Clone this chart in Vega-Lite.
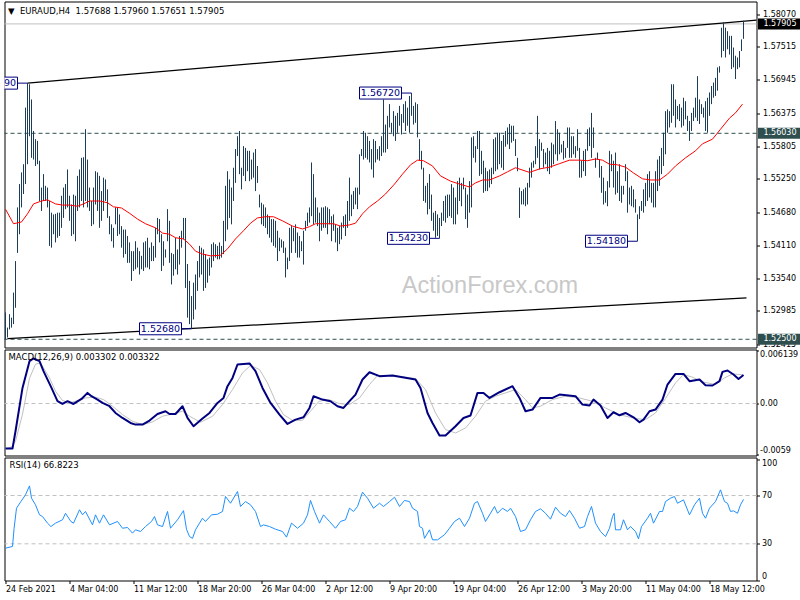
{
"$schema": "https://vega.github.io/schema/vega-lite/v6.json",
"background": "white",
"padding": {"left": 2.5, "top": 0.5, "right": 0, "bottom": 0},
"bounds": "flush",
"spacing": 2,
"config": {
  "view": {"stroke": "black", "strokeWidth": 1},
  "axis": {"labelFont": "DejaVu Sans", "labelFontSize": 8, "labelColor": "black", "tickColor": "black", "tickSize": 3, "labelPadding": 3, "domain": false, "grid": false, "labelOverlap": false, "labelFlush": false},
  "title": {"font": "DejaVu Sans", "fontSize": 8.5, "fontWeight": "normal", "color": "black", "anchor": "start", "frame": "group"},
  "text": {"font": "DejaVu Sans"}
},
"datasets": {
"bars": [
{"i":0,"h":1.5296,"l":1.5250},{"i":1,"h":1.5270,"l":1.5253},{"i":2,"h":1.5293,"l":1.5267},{"i":3,"h":1.5287,"l":1.5270},{"i":4,"h":1.5330,"l":1.5276},{"i":5,"h":1.5384,"l":1.5304},{"i":6,"h":1.5476,"l":1.5398},{"i":7,"h":1.5516,"l":1.5430},{"i":8,"h":1.5536,"l":1.5476},{"i":9,"h":1.5550,"l":1.5499},
{"i":10,"h":1.5647,"l":1.5516},{"i":11,"h":1.5689,"l":1.5550},{"i":12,"h":1.5687,"l":1.5598},{"i":13,"h":1.5661,"l":1.5561},{"i":14,"h":1.5607,"l":1.5558},{"i":15,"h":1.5593,"l":1.5547},{"i":16,"h":1.5590,"l":1.5550},{"i":17,"h":1.5556,"l":1.5487},{"i":18,"h":1.5510,"l":1.5470},{"i":19,"h":1.5533,"l":1.5487},
{"i":20,"h":1.5513,"l":1.5487},{"i":21,"h":1.5510,"l":1.5476},{"i":22,"h":1.5487,"l":1.5410},{"i":23,"h":1.5467,"l":1.5407},{"i":24,"h":1.5464,"l":1.5430},{"i":25,"h":1.5465,"l":1.5416},{"i":26,"h":1.5467,"l":1.5424},{"i":27,"h":1.5467,"l":1.5427},{"i":28,"h":1.5496,"l":1.5441},{"i":29,"h":1.5510,"l":1.5458},
{"i":30,"h":1.5516,"l":1.5473},{"i":31,"h":1.5541,"l":1.5476},{"i":32,"h":1.5496,"l":1.5453},{"i":33,"h":1.5481,"l":1.5427},{"i":34,"h":1.5498,"l":1.5430},{"i":35,"h":1.5496,"l":1.5418},{"i":36,"h":1.5530,"l":1.5470},{"i":37,"h":1.5541,"l":1.5476},{"i":38,"h":1.5561,"l":1.5487},{"i":39,"h":1.5562,"l":1.5476},
{"i":40,"h":1.5610,"l":1.5487},{"i":41,"h":1.5558,"l":1.5476},{"i":42,"h":1.5510,"l":1.5470},{"i":43,"h":1.5487,"l":1.5444},{"i":44,"h":1.5510,"l":1.5447},{"i":45,"h":1.5538,"l":1.5481},{"i":46,"h":1.5536,"l":1.5470},{"i":47,"h":1.5530,"l":1.5441},{"i":48,"h":1.5504,"l":1.5453},{"i":49,"h":1.5527,"l":1.5470},
{"i":50,"h":1.5524,"l":1.5487},{"i":51,"h":1.5507,"l":1.5458},{"i":52,"h":1.5461,"l":1.5430},{"i":53,"h":1.5447,"l":1.5418},{"i":54,"h":1.5441,"l":1.5407},{"i":55,"h":1.5476,"l":1.5447},{"i":56,"h":1.5476,"l":1.5427},{"i":57,"h":1.5464,"l":1.5430},{"i":58,"h":1.5444,"l":1.5407},{"i":59,"h":1.5438,"l":1.5390},
{"i":60,"h":1.5438,"l":1.5396},{"i":61,"h":1.5427,"l":1.5381},{"i":62,"h":1.5416,"l":1.5381},{"i":63,"h":1.5401,"l":1.5350},{"i":64,"h":1.5401,"l":1.5367},{"i":65,"h":1.5418,"l":1.5370},{"i":66,"h":1.5407,"l":1.5373},{"i":67,"h":1.5401,"l":1.5361},{"i":68,"h":1.5393,"l":1.5370},{"i":69,"h":1.5416,"l":1.5367},
{"i":70,"h":1.5418,"l":1.5373},{"i":71,"h":1.5424,"l":1.5373},{"i":72,"h":1.5407,"l":1.5370},{"i":73,"h":1.5416,"l":1.5384},{"i":74,"h":1.5410,"l":1.5384},{"i":75,"h":1.5441,"l":1.5390},{"i":76,"h":1.5458,"l":1.5430},{"i":77,"h":1.5456,"l":1.5416},{"i":78,"h":1.5430,"l":1.5367},{"i":79,"h":1.5418,"l":1.5376},
{"i":80,"h":1.5404,"l":1.5390},{"i":81,"h":1.5473,"l":1.5418},{"i":82,"h":1.5453,"l":1.5381},{"i":83,"h":1.5398,"l":1.5344},{"i":84,"h":1.5396,"l":1.5359},{"i":85,"h":1.5424,"l":1.5370},{"i":86,"h":1.5404,"l":1.5361},{"i":87,"h":1.5427,"l":1.5378},{"i":88,"h":1.5436,"l":1.5407},{"i":89,"h":1.5458,"l":1.5421},
{"i":90,"h":1.5458,"l":1.5338},{"i":91,"h":1.5379,"l":1.5287},{"i":92,"h":1.5350,"l":1.5276},{"i":93,"h":1.5324,"l":1.5268},{"i":94,"h":1.5347,"l":1.5284},{"i":95,"h":1.5361,"l":1.5301},{"i":96,"h":1.5384,"l":1.5333},{"i":97,"h":1.5410,"l":1.5356},{"i":98,"h":1.5407,"l":1.5361},{"i":99,"h":1.5404,"l":1.5333},
{"i":100,"h":1.5396,"l":1.5338},{"i":101,"h":1.5387,"l":1.5347},{"i":102,"h":1.5390,"l":1.5359},{"i":103,"h":1.5413,"l":1.5373},{"i":104,"h":1.5416,"l":1.5384},{"i":105,"h":1.5413,"l":1.5390},{"i":106,"h":1.5410,"l":1.5387},{"i":107,"h":1.5416,"l":1.5387},{"i":108,"h":1.5410,"l":1.5390},{"i":109,"h":1.5453,"l":1.5396},
{"i":110,"h":1.5513,"l":1.5418},{"i":111,"h":1.5538,"l":1.5438},{"i":112,"h":1.5524,"l":1.5458},{"i":113,"h":1.5510,"l":1.5447},{"i":114,"h":1.5544,"l":1.5487},{"i":115,"h":1.5576,"l":1.5518},{"i":116,"h":1.5598,"l":1.5564},{"i":117,"h":1.5607,"l":1.5533},{"i":118,"h":1.5544,"l":1.5507},{"i":119,"h":1.5581,"l":1.5530},
{"i":120,"h":1.5578,"l":1.5521},{"i":121,"h":1.5573,"l":1.5538},{"i":122,"h":1.5573,"l":1.5521},{"i":123,"h":1.5558,"l":1.5524},{"i":124,"h":1.5570,"l":1.5527},{"i":125,"h":1.5576,"l":1.5504},{"i":126,"h":1.5547,"l":1.5518},{"i":127,"h":1.5498,"l":1.5476},{"i":128,"h":1.5484,"l":1.5447},{"i":129,"h":1.5481,"l":1.5444},
{"i":130,"h":1.5476,"l":1.5441},{"i":131,"h":1.5464,"l":1.5430},{"i":132,"h":1.5461,"l":1.5424},{"i":133,"h":1.5456,"l":1.5416},{"i":134,"h":1.5456,"l":1.5410},{"i":135,"h":1.5453,"l":1.5407},{"i":136,"h":1.5436,"l":1.5384},{"i":137,"h":1.5424,"l":1.5401},{"i":138,"h":1.5421,"l":1.5407},{"i":139,"h":1.5418,"l":1.5398},
{"i":140,"h":1.5407,"l":1.5356},{"i":141,"h":1.5390,"l":1.5370},{"i":142,"h":1.5441,"l":1.5384},{"i":143,"h":1.5444,"l":1.5398},{"i":144,"h":1.5441,"l":1.5418},{"i":145,"h":1.5447,"l":1.5398},{"i":146,"h":1.5433,"l":1.5390},{"i":147,"h":1.5427,"l":1.5390},{"i":148,"h":1.5418,"l":1.5401},{"i":149,"h":1.5436,"l":1.5378},
{"i":150,"h":1.5453,"l":1.5436},{"i":151,"h":1.5467,"l":1.5444},{"i":152,"h":1.5476,"l":1.5450},{"i":153,"h":1.5553,"l":1.5461},{"i":154,"h":1.5533,"l":1.5447},{"i":155,"h":1.5493,"l":1.5450},{"i":156,"h":1.5476,"l":1.5444},{"i":157,"h":1.5467,"l":1.5418},{"i":158,"h":1.5476,"l":1.5436},{"i":159,"h":1.5476,"l":1.5441},
{"i":160,"h":1.5478,"l":1.5441},{"i":161,"h":1.5476,"l":1.5430},{"i":162,"h":1.5473,"l":1.5447},{"i":163,"h":1.5461,"l":1.5418},{"i":164,"h":1.5464,"l":1.5436},{"i":165,"h":1.5447,"l":1.5416},{"i":166,"h":1.5441,"l":1.5401},{"i":167,"h":1.5444,"l":1.5413},{"i":168,"h":1.5450,"l":1.5421},{"i":169,"h":1.5461,"l":1.5441},
{"i":170,"h":1.5464,"l":1.5427},{"i":171,"h":1.5487,"l":1.5441},{"i":172,"h":1.5527,"l":1.5453},{"i":173,"h":1.5498,"l":1.5461},{"i":174,"h":1.5504,"l":1.5473},{"i":175,"h":1.5510,"l":1.5481},{"i":176,"h":1.5510,"l":1.5473},{"i":177,"h":1.5567,"l":1.5498},{"i":178,"h":1.5576,"l":1.5564},{"i":179,"h":1.5607,"l":1.5558},
{"i":180,"h":1.5604,"l":1.5561},{"i":181,"h":1.5598,"l":1.5558},{"i":182,"h":1.5590,"l":1.5553},{"i":183,"h":1.5576,"l":1.5541},{"i":184,"h":1.5593,"l":1.5527},{"i":185,"h":1.5590,"l":1.5553},{"i":186,"h":1.5576,"l":1.5558},{"i":187,"h":1.5581,"l":1.5556},{"i":188,"h":1.5598,"l":1.5564},{"i":189,"h":1.5661,"l":1.5570},
{"i":190,"h":1.5618,"l":1.5570},{"i":191,"h":1.5633,"l":1.5576},{"i":192,"h":1.5653,"l":1.5613},{"i":193,"h":1.5621,"l":1.5604},{"i":194,"h":1.5641,"l":1.5598},{"i":195,"h":1.5633,"l":1.5590},{"i":196,"h":1.5638,"l":1.5604},{"i":197,"h":1.5650,"l":1.5616},{"i":198,"h":1.5636,"l":1.5601},{"i":199,"h":1.5653,"l":1.5621},
{"i":200,"h":1.5658,"l":1.5607},{"i":201,"h":1.5647,"l":1.5616},{"i":202,"h":1.5667,"l":1.5604},{"i":203,"h":1.5672,"l":1.5633},{"i":204,"h":1.5650,"l":1.5618},{"i":205,"h":1.5656,"l":1.5621},{"i":206,"h":1.5653,"l":1.5596},{"i":207,"h":1.5593,"l":1.5556},{"i":208,"h":1.5573,"l":1.5541},{"i":209,"h":1.5544,"l":1.5487},
{"i":210,"h":1.5513,"l":1.5484},{"i":211,"h":1.5518,"l":1.5464},{"i":212,"h":1.5533,"l":1.5473},{"i":213,"h":1.5498,"l":1.5453},{"i":214,"h":1.5467,"l":1.5436},{"i":215,"h":1.5470,"l":1.5424},{"i":216,"h":1.5464,"l":1.5427},{"i":217,"h":1.5458,"l":1.5423},{"i":218,"h":1.5467,"l":1.5444},{"i":219,"h":1.5487,"l":1.5453},
{"i":220,"h":1.5496,"l":1.5450},{"i":221,"h":1.5498,"l":1.5458},{"i":222,"h":1.5498,"l":1.5461},{"i":223,"h":1.5516,"l":1.5458},{"i":224,"h":1.5510,"l":1.5447},{"i":225,"h":1.5493,"l":1.5447},{"i":226,"h":1.5521,"l":1.5464},{"i":227,"h":1.5527,"l":1.5487},{"i":228,"h":1.5518,"l":1.5478},{"i":229,"h":1.5527,"l":1.5507},
{"i":230,"h":1.5510,"l":1.5456},{"i":231,"h":1.5498,"l":1.5441},{"i":232,"h":1.5521,"l":1.5467},{"i":233,"h":1.5596,"l":1.5476},{"i":234,"h":1.5598,"l":1.5561},{"i":235,"h":1.5581,"l":1.5553},{"i":236,"h":1.5607,"l":1.5576},{"i":237,"h":1.5607,"l":1.5530},{"i":238,"h":1.5573,"l":1.5533},{"i":239,"h":1.5556,"l":1.5501},
{"i":240,"h":1.5544,"l":1.5504},{"i":241,"h":1.5538,"l":1.5504},{"i":242,"h":1.5541,"l":1.5510},{"i":243,"h":1.5544,"l":1.5516},{"i":244,"h":1.5593,"l":1.5533},{"i":245,"h":1.5596,"l":1.5538},{"i":246,"h":1.5604,"l":1.5541},{"i":247,"h":1.5604,"l":1.5550},{"i":248,"h":1.5590,"l":1.5544},{"i":249,"h":1.5600,"l":1.5540},
{"i":250,"h":1.5607,"l":1.5580},{"i":251,"h":1.5613,"l":1.5584},{"i":252,"h":1.5619,"l":1.5576},{"i":253,"h":1.5616,"l":1.5587},{"i":254,"h":1.5616,"l":1.5590},{"i":255,"h":1.5593,"l":1.5564},{"i":256,"h":1.5561,"l":1.5538},{"i":257,"h":1.5510,"l":1.5458},{"i":258,"h":1.5504,"l":1.5481},{"i":259,"h":1.5507,"l":1.5481},
{"i":260,"h":1.5510,"l":1.5478},{"i":261,"h":1.5518,"l":1.5481},{"i":262,"h":1.5544,"l":1.5510},{"i":263,"h":1.5553,"l":1.5527},{"i":264,"h":1.5556,"l":1.5544},{"i":265,"h":1.5581,"l":1.5550},{"i":266,"h":1.5633,"l":1.5561},{"i":267,"h":1.5593,"l":1.5541},{"i":268,"h":1.5587,"l":1.5573},{"i":269,"h":1.5576,"l":1.5544},
{"i":270,"h":1.5570,"l":1.5550},{"i":271,"h":1.5578,"l":1.5538},{"i":272,"h":1.5573,"l":1.5533},{"i":273,"h":1.5587,"l":1.5544},{"i":274,"h":1.5584,"l":1.5550},{"i":275,"h":1.5624,"l":1.5567},{"i":276,"h":1.5610,"l":1.5556},{"i":277,"h":1.5604,"l":1.5567},{"i":278,"h":1.5584,"l":1.5570},{"i":279,"h":1.5590,"l":1.5558},
{"i":280,"h":1.5578,"l":1.5561},{"i":281,"h":1.5613,"l":1.5578},{"i":282,"h":1.5613,"l":1.5561},{"i":283,"h":1.5598,"l":1.5561},{"i":284,"h":1.5598,"l":1.5567},{"i":285,"h":1.5581,"l":1.5561},{"i":286,"h":1.5610,"l":1.5573},{"i":287,"h":1.5578,"l":1.5527},{"i":288,"h":1.5556,"l":1.5527},{"i":289,"h":1.5573,"l":1.5538},
{"i":290,"h":1.5576,"l":1.5530},{"i":291,"h":1.5610,"l":1.5573},{"i":292,"h":1.5613,"l":1.5581},{"i":293,"h":1.5638,"l":1.5561},{"i":294,"h":1.5613,"l":1.5578},{"i":295,"h":1.5561,"l":1.5544},{"i":296,"h":1.5570,"l":1.5558},{"i":297,"h":1.5558,"l":1.5527},{"i":298,"h":1.5547,"l":1.5501},{"i":299,"h":1.5527,"l":1.5481},
{"i":300,"h":1.5504,"l":1.5484},{"i":301,"h":1.5521,"l":1.5478},{"i":302,"h":1.5573,"l":1.5510},{"i":303,"h":1.5567,"l":1.5538},{"i":304,"h":1.5556,"l":1.5510},{"i":305,"h":1.5570,"l":1.5498},{"i":306,"h":1.5538,"l":1.5501},{"i":307,"h":1.5550,"l":1.5487},{"i":308,"h":1.5513,"l":1.5484},{"i":309,"h":1.5513,"l":1.5498},
{"i":310,"h":1.5550,"l":1.5521},{"i":311,"h":1.5538,"l":1.5467},{"i":312,"h":1.5510,"l":1.5481},{"i":313,"h":1.5513,"l":1.5478},{"i":314,"h":1.5507,"l":1.5476},{"i":315,"h":1.5490,"l":1.5467},{"i":316,"h":1.5464,"l":1.5418},{"i":317,"h":1.5478,"l":1.5456},{"i":318,"h":1.5487,"l":1.5470},{"i":319,"h":1.5507,"l":1.5467},
{"i":320,"h":1.5518,"l":1.5478},{"i":321,"h":1.5533,"l":1.5487},{"i":322,"h":1.5538,"l":1.5493},{"i":323,"h":1.5518,"l":1.5484},{"i":324,"h":1.5518,"l":1.5476},{"i":325,"h":1.5538,"l":1.5476},{"i":326,"h":1.5558,"l":1.5504},{"i":327,"h":1.5564,"l":1.5513},{"i":328,"h":1.5578,"l":1.5533},{"i":329,"h":1.5604,"l":1.5547},
{"i":330,"h":1.5641,"l":1.5567},{"i":331,"h":1.5644,"l":1.5604},{"i":332,"h":1.5641,"l":1.5613},{"i":333,"h":1.5687,"l":1.5621},{"i":334,"h":1.5687,"l":1.5633},{"i":335,"h":1.5661,"l":1.5613},{"i":336,"h":1.5650,"l":1.5627},{"i":337,"h":1.5653,"l":1.5624},{"i":338,"h":1.5647,"l":1.5613},{"i":339,"h":1.5664,"l":1.5616},
{"i":340,"h":1.5658,"l":1.5627},{"i":341,"h":1.5633,"l":1.5607},{"i":342,"h":1.5624,"l":1.5590},{"i":343,"h":1.5638,"l":1.5607},{"i":344,"h":1.5647,"l":1.5624},{"i":345,"h":1.5664,"l":1.5630},{"i":346,"h":1.5701,"l":1.5624},{"i":347,"h":1.5661,"l":1.5619},{"i":348,"h":1.5653,"l":1.5636},{"i":349,"h":1.5647,"l":1.5630},
{"i":350,"h":1.5658,"l":1.5607},{"i":351,"h":1.5664,"l":1.5604},{"i":352,"h":1.5673,"l":1.5633},{"i":353,"h":1.5684,"l":1.5653},{"i":354,"h":1.5690,"l":1.5664},{"i":355,"h":1.5698,"l":1.5667},{"i":356,"h":1.5716,"l":1.5676},{"i":357,"h":1.5718,"l":1.5707},{"i":358,"h":1.5784,"l":1.5733},{"i":359,"h":1.5793,"l":1.5744},
{"i":360,"h":1.5784,"l":1.5733},{"i":361,"h":1.5778,"l":1.5747},{"i":362,"h":1.5770,"l":1.5738},{"i":363,"h":1.5770,"l":1.5713},{"i":364,"h":1.5750,"l":1.5716},{"i":365,"h":1.5736,"l":1.5696},{"i":366,"h":1.5733,"l":1.5713},{"i":367,"h":1.5744,"l":1.5716},{"i":368,"h":1.5764,"l":1.5744},{"i":369,"h":1.5796,"l":1.5765}
],
"ma": [
{"i":0,"p":1.5473},{"i":4,"p":1.5448},{"i":8,"p":1.5451},{"i":11,"p":1.5465},{"i":14,"p":1.5482},{"i":18,"p":1.5487},{"i":21,"p":1.5489},{"i":25,"p":1.5482},{"i":28.5,"p":1.548},{"i":32,"p":1.548},{"i":36,"p":1.5478},{"i":39,"p":1.5482},{"i":42,"p":1.5487},{"i":47,"p":1.5487},{"i":51,"p":1.5484},{"i":54,"p":1.5477},{"i":58,"p":1.5475},{"i":62,"p":1.5466},{"i":66,"p":1.5456},{"i":70,"p":1.5448},{"i":75,"p":1.5441},{"i":78.5,"p":1.5432},{"i":82,"p":1.543},{"i":85,"p":1.5424},{"i":89,"p":1.5422},{"i":92,"p":1.5413},{"i":95,"p":1.5401},{"i":98.5,"p":1.5396},{"i":102.5,"p":1.5393},{"i":107.5,"p":1.5394},{"i":111,"p":1.5405},{"i":115,"p":1.5422},{"i":119,"p":1.5436},{"i":122.5,"p":1.5449},{"i":126,"p":1.5458},{"i":130,"p":1.546},{"i":134,"p":1.546},{"i":138.5,"p":1.5453},{"i":143.5,"p":1.5444},{"i":148.5,"p":1.5439},{"i":152,"p":1.5443},{"i":155,"p":1.5448},{"i":164,"p":1.5448},{"i":167.5,"p":1.5444},{"i":172,"p":1.5446},{"i":175,"p":1.5449},{"i":178.5,"p":1.5465},{"i":182,"p":1.5477},{"i":186,"p":1.5487},{"i":190,"p":1.5499},{"i":194.5,"p":1.5516},{"i":198.5,"p":1.5533},{"i":202.5,"p":1.5549},{"i":206,"p":1.5557},{"i":209,"p":1.5556},{"i":213.5,"p":1.5547},{"i":217.5,"p":1.553},{"i":222.5,"p":1.5521},{"i":227,"p":1.5516},{"i":232,"p":1.5511},{"i":235,"p":1.5518},{"i":238.5,"p":1.5523},{"i":242,"p":1.5523},{"i":247,"p":1.553},{"i":251,"p":1.5537},{"i":255,"p":1.5544},{"i":262,"p":1.5536},{"i":267,"p":1.5542},{"i":272,"p":1.5545},{"i":277,"p":1.5551},{"i":282,"p":1.5557},{"i":287,"p":1.5557},{"i":291,"p":1.5556},{"i":295,"p":1.5559},{"i":298.5,"p":1.5557},{"i":302,"p":1.555},{"i":306,"p":1.5549},{"i":310,"p":1.5545},{"i":314,"p":1.5535},{"i":318.5,"p":1.5525},{"i":322.5,"p":1.5523},{"i":327,"p":1.5523},{"i":331,"p":1.5533},{"i":335,"p":1.5547},{"i":340,"p":1.5561},{"i":345,"p":1.5573},{"i":348.5,"p":1.5585},{"i":353.5,"p":1.5593},{"i":357.5,"p":1.561},{"i":362,"p":1.5629},{"i":365,"p":1.5638},{"i":368.5,"p":1.5653}
],
"trend": [
{"k":"u","i":11,"p":1.5689},{"k":"u","i":375.5,"p":1.5797},{"k":"l","i":1,"p":1.5251},{"k":"l","i":370.5,"p":1.5321}
],
"notes": [
{"i":11,"p":1.5689,"t":"1.56890"},{"i":93,"p":1.5268,"t":"1.52680"},{"i":203,"p":1.5672,"t":"1.56720"},{"i":217,"p":1.5423,"t":"1.54230"},{"i":316,"p":1.5418,"t":"1.54180"}
],
"tags": [
{"p":1.57905,"t":"1.57905","c":"cur"},{"p":1.5603,"t":"1.56030","c":"lvl"},{"p":1.525,"t":"1.52500","c":"lvl"}
],
"macd": [
{"i":0,"v":-0.00522},{"i":3.5,"v":-0.00522},{"i":5,"v":-0.00321},{"i":8.5,"v":0.00181},{"i":12,"v":0.00491},{"i":14,"v":0.00522},{"i":17,"v":0.00491},{"i":19,"v":0.00375},{"i":23,"v":0.00181},{"i":26,"v":0.00027},{"i":28.5,"v":-0.00005},{"i":31,"v":0.00027},{"i":34,"v":-0.00005},{"i":38,"v":0.00053},{"i":41,"v":0.00123},{"i":43,"v":0.00085},{"i":46,"v":0.00046},{"i":48.5,"v":0.00007},{"i":52,"v":-0.00031},{"i":55,"v":-0.00109},{"i":58.5,"v":-0.00167},{"i":62.5,"v":-0.00225},{"i":65,"v":-0.00244},{"i":68.5,"v":-0.00244},{"i":72,"v":-0.00197},{"i":76,"v":-0.00121},{"i":80,"v":-0.00089},{"i":82,"v":-0.00121},{"i":85,"v":-0.00121},{"i":88.5,"v":-0.00031},{"i":91,"v":-0.00167},{"i":94,"v":-0.00263},{"i":98.5,"v":-0.00174},{"i":102,"v":-0.00109},{"i":106,"v":0.00007},{"i":109,"v":0.00065},{"i":111,"v":0.00201},{"i":113.5,"v":0.00297},{"i":116,"v":0.00452},{"i":122,"v":0.00464},{"i":125,"v":0.00375},{"i":128.5,"v":0.00181},{"i":132.5,"v":0.00007},{"i":137,"v":-0.00128},{"i":141,"v":-0.00237},{"i":145,"v":-0.00186},{"i":149,"v":-0.00159},{"i":152,"v":-0.00051},{"i":154,"v":0.00085},{"i":158.5,"v":0.00046},{"i":162.5,"v":0.00027},{"i":166,"v":-0.00031},{"i":169,"v":-0.00051},{"i":172,"v":0.00027},{"i":175,"v":0.00104},{"i":178.5,"v":0.00278},{"i":182,"v":0.00363},{"i":187,"v":0.00317},{"i":193.5,"v":0.00325},{"i":198.5,"v":0.00305},{"i":205,"v":0.00278},{"i":207.5,"v":0.00181},{"i":211,"v":-0.00109},{"i":213.5,"v":-0.00225},{"i":217,"v":-0.00371},{"i":220,"v":-0.00371},{"i":225,"v":-0.00263},{"i":229,"v":-0.00167},{"i":232.5,"v":-0.00139},{"i":236,"v":0.00123},{"i":239,"v":0.00123},{"i":242,"v":0.00065},{"i":247,"v":0.00131},{"i":253.5,"v":0.00201},{"i":257,"v":0.00065},{"i":260,"v":-0.00089},{"i":263.5,"v":-0.0007},{"i":267.5,"v":0.00065},{"i":273.5,"v":0.00065},{"i":277,"v":0.00104},{"i":285,"v":0.00085},{"i":288.5,"v":-0.00012},{"i":292,"v":-0.00023},{"i":294,"v":0.00046},{"i":297.5,"v":-0.00023},{"i":301,"v":-0.00167},{"i":304,"v":-0.00101},{"i":307,"v":-0.00136},{"i":310,"v":-0.00109},{"i":314,"v":-0.00159},{"i":317,"v":-0.00217},{"i":319,"v":-0.00186},{"i":322,"v":-0.00089},{"i":325,"v":-0.0007},{"i":328.5,"v":0.00046},{"i":331,"v":0.0022},{"i":335,"v":0.00343},{"i":339,"v":0.00343},{"i":342,"v":0.00259},{"i":347,"v":0.00278},{"i":350,"v":0.00212},{"i":353.5,"v":0.00209},{"i":357,"v":0.00259},{"i":358.5,"v":0.00367},{"i":361,"v":0.00383},{"i":364,"v":0.00336},{"i":366.5,"v":0.00285},{"i":369,"v":0.0033}
],
"sig": [
{"i":0,"v":-0.0053},{"i":3,"v":-0.005},{"i":5,"v":-0.00437},{"i":8.5,"v":-0.00124},{"i":12,"v":0.00293},{"i":15,"v":0.00456},{"i":17.5,"v":0.00471},{"i":22,"v":0.00297},{"i":25,"v":0.00143},{"i":28.5,"v":0.00035},{"i":32,"v":0.00007},{"i":35,"v":0.00027},{"i":40,"v":0.00065},{"i":45,"v":0.00073},{"i":49,"v":0.00046},{"i":53.5,"v":-0.00031},{"i":58.5,"v":-0.00128},{"i":63.5,"v":-0.00205},{"i":68.5,"v":-0.00244},{"i":73.5,"v":-0.00213},{"i":78.5,"v":-0.00147},{"i":83.5,"v":-0.00121},{"i":88.5,"v":-0.00089},{"i":92,"v":-0.00147},{"i":97.5,"v":-0.00217},{"i":103.5,"v":-0.00147},{"i":108.5,"v":-0.00012},{"i":113.5,"v":0.00162},{"i":118.5,"v":0.00355},{"i":122.5,"v":0.00441},{"i":127,"v":0.00394},{"i":131,"v":0.00239},{"i":135,"v":0.00027},{"i":139,"v":-0.00128},{"i":143.5,"v":-0.00194},{"i":148.5,"v":-0.00194},{"i":152.5,"v":-0.00089},{"i":156.8,"v":0.00027},{"i":161.8,"v":0.00046},{"i":166.8,"v":0},{"i":172,"v":-0.00012},{"i":177,"v":0.00065},{"i":182,"v":0.0022},{"i":186,"v":0.00325},{"i":192,"v":0.00325},{"i":198.5,"v":0.00309},{"i":205,"v":0.0029},{"i":210,"v":0.00162},{"i":215,"v":-0.00109},{"i":220,"v":-0.00302},{"i":225,"v":-0.00341},{"i":230,"v":-0.00283},{"i":235,"v":-0.00147},{"i":240,"v":0.00027},{"i":245,"v":0.00085},{"i":250,"v":0.00123},{"i":255,"v":0.00162},{"i":260,"v":0.00046},{"i":263.5,"v":-0.00051},{"i":267.5,"v":-0.00031},{"i":273.5,"v":0.00046},{"i":280,"v":0.00085},{"i":286.8,"v":0.00065},{"i":293.5,"v":0.00027},{"i":300,"v":-0.00051},{"i":306.8,"v":-0.00128},{"i":315,"v":-0.00174},{"i":320,"v":-0.00186},{"i":325,"v":-0.00109},{"i":330,"v":0.00058},{"i":335,"v":0.00239},{"i":339,"v":0.00336},{"i":343.5,"v":0.00305},{"i":348.5,"v":0.00251},{"i":355,"v":0.0022},{"i":359.5,"v":0.00297},{"i":363.5,"v":0.00343},{"i":369,"v":0.00332}
],
"rsi": [
{"i":0,"v":26.4},{"i":3.5,"v":27.8},{"i":4.3,"v":42.9},{"i":5.5,"v":59.5},{"i":7.7,"v":65},{"i":10,"v":70.6},{"i":12,"v":78},{"i":13,"v":67.8},{"i":15,"v":62.3},{"i":17,"v":54},{"i":18.5,"v":52.6},{"i":21,"v":47.1},{"i":22.7,"v":44.3},{"i":25,"v":47.1},{"i":28.5,"v":49.9},{"i":30,"v":55.3},{"i":32.7,"v":48.5},{"i":34,"v":47.1},{"i":37,"v":58.2},{"i":38.5,"v":54},{"i":40,"v":56.8},{"i":43.5,"v":45.7},{"i":45,"v":54},{"i":47,"v":47.1},{"i":49,"v":54},{"i":52,"v":45.7},{"i":56,"v":48.5},{"i":58.5,"v":42.9},{"i":61,"v":43.5},{"i":63.5,"v":38.8},{"i":65,"v":41.6},{"i":67.5,"v":40.2},{"i":70,"v":44.3},{"i":73,"v":48.5},{"i":74.5,"v":52.6},{"i":76,"v":45.7},{"i":78.5,"v":44.3},{"i":81,"v":56.8},{"i":82.5,"v":42.9},{"i":86,"v":49.9},{"i":89,"v":57.5},{"i":90.5,"v":42},{"i":92,"v":36},{"i":93.5,"v":34.5},{"i":95,"v":41.6},{"i":97,"v":47.1},{"i":98.5,"v":51.2},{"i":100,"v":48.5},{"i":103,"v":54},{"i":106,"v":54.5},{"i":108.5,"v":56.8},{"i":110,"v":69.2},{"i":112.5,"v":63.6},{"i":116,"v":73.3},{"i":117.5,"v":60.9},{"i":120,"v":65},{"i":122.5,"v":62.3},{"i":125,"v":56.8},{"i":127.5,"v":44.3},{"i":129,"v":45.7},{"i":132,"v":44.3},{"i":135,"v":42.1},{"i":138.5,"v":40.2},{"i":140.5,"v":35.5},{"i":143,"v":47.1},{"i":146,"v":42.9},{"i":149,"v":47.1},{"i":151,"v":54},{"i":152.5,"v":65.9},{"i":154.5,"v":56.8},{"i":157,"v":47.1},{"i":159,"v":54},{"i":162,"v":48.5},{"i":165,"v":42.9},{"i":167.5,"v":48.5},{"i":170,"v":49.9},{"i":172,"v":59.5},{"i":174,"v":56.8},{"i":176,"v":60.9},{"i":178.5,"v":72.8},{"i":181,"v":67.8},{"i":184,"v":59.5},{"i":187,"v":63.6},{"i":189,"v":60.9},{"i":192,"v":65},{"i":194.5,"v":68.6},{"i":197,"v":60.9},{"i":199.5,"v":65.9},{"i":202,"v":65},{"i":203.5,"v":59.5},{"i":206,"v":56.8},{"i":207,"v":44.3},{"i":208.5,"v":42.9},{"i":209.5,"v":34.5},{"i":212,"v":41.6},{"i":213.5,"v":33.3},{"i":216,"v":33.3},{"i":219.5,"v":37.5},{"i":222,"v":42.9},{"i":224.5,"v":48.5},{"i":227,"v":51.2},{"i":229.5,"v":44.3},{"i":232,"v":51.2},{"i":234.5,"v":63.6},{"i":236,"v":65},{"i":238.5,"v":55.3},{"i":240,"v":48.5},{"i":242.5,"v":55.3},{"i":244.5,"v":60.9},{"i":246,"v":55.3},{"i":248.5,"v":59.5},{"i":251,"v":56.8},{"i":252.5,"v":59.5},{"i":255,"v":52.6},{"i":257.5,"v":40.2},{"i":260,"v":41.6},{"i":262.5,"v":49.9},{"i":265,"v":56.8},{"i":267.5,"v":59},{"i":270,"v":55.3},{"i":272.5,"v":50.4},{"i":275,"v":60.3},{"i":277.5,"v":55.3},{"i":280,"v":52.6},{"i":282,"v":57.6},{"i":284.5,"v":51.2},{"i":287,"v":42.9},{"i":289.5,"v":44.3},{"i":291,"v":52.6},{"i":293,"v":60.9},{"i":295,"v":47.1},{"i":297.5,"v":40.2},{"i":300,"v":36},{"i":302,"v":42.9},{"i":303.5,"v":52.6},{"i":304.3,"v":55.3},{"i":305,"v":41.6},{"i":307.5,"v":41.6},{"i":309,"v":49.9},{"i":311,"v":41.6},{"i":312.5,"v":44.3},{"i":315,"v":40.2},{"i":316.5,"v":34.1},{"i":318,"v":44.3},{"i":321,"v":51.2},{"i":322.5,"v":55.3},{"i":324,"v":47.1},{"i":327,"v":56.8},{"i":328.5,"v":56.8},{"i":330,"v":65},{"i":332.5,"v":67.8},{"i":334.5,"v":69.2},{"i":336,"v":63.6},{"i":339,"v":66.4},{"i":342,"v":54},{"i":344.5,"v":62.3},{"i":347,"v":67.8},{"i":348.5,"v":55.3},{"i":350,"v":51.2},{"i":352,"v":59.5},{"i":355,"v":65},{"i":357.5,"v":74.7},{"i":359.5,"v":65},{"i":361,"v":63.6},{"i":362.5,"v":56.8},{"i":364,"v":57.3},{"i":366,"v":55.3},{"i":367.5,"v":62.3},{"i":369,"v":66.8}
]
},
"vconcat": [
{
  "width": 752, "height": 346,
  "title": {"text": "\u25bc\u00a0\u00a0EURAUD,H4\u00a0\u00a01.57688 1.57960 1.57651 1.57905", "offset": -13.5, "dx": 3.5},
  "layer": [
    {"data": {"values": [{"t": "ActionForex.com"}]},
     "mark": {"type": "text", "font": "Liberation Sans", "fontSize": 23.5, "color": "#c8c8c8", "align": "center", "baseline": "middle"},
     "encoding": {
       "x": {"datum": 242.25, "type": "quantitative", "scale": {"domain": [-0.5, 375.5], "nice": false, "zero": false}, "axis": null},
       "y": {"datum": 1.5341, "type": "quantitative", "title": null, "scale": {"domain": [1.52359, 1.58289], "nice": false, "zero": false}, "axis": {"orient": "right", "values": [1.52415, 1.52985, 1.5354, 1.5411, 1.5468, 1.5525, 1.55805, 1.56375, 1.56945, 1.57515, 1.5807], "format": ".5f"}},
       "text": {"field": "t"}}},
    {"data": {"values": [{"p": 1.5603}, {"p": 1.525}]},
     "mark": {"type": "rule", "color": "#2f4f4f", "strokeWidth": 1, "strokeDash": [4, 3]},
     "encoding": {"y": {"field": "p", "type": "quantitative", "title": null, "scale": {"domain": [1.52359, 1.58289], "nice": false, "zero": false}, "axis": {"orient": "right", "values": [1.52415, 1.52985, 1.5354, 1.5411, 1.5468, 1.5525, 1.55805, 1.56375, 1.56945, 1.57515, 1.5807], "format": ".5f"}}}},
    {"data": {"values": [{"p": 1.57905}]},
     "mark": {"type": "rule", "color": "#c0c0c0", "strokeWidth": 1},
     "encoding": {"y": {"field": "p", "type": "quantitative", "title": null, "scale": {"domain": [1.52359, 1.58289], "nice": false, "zero": false}, "axis": {"orient": "right", "values": [1.52415, 1.52985, 1.5354, 1.5411, 1.5468, 1.5525, 1.55805, 1.56375, 1.56945, 1.57515, 1.5807], "format": ".5f"}}}},
    {"data": {"name": "trend"},
     "mark": {"type": "line", "color": "black", "strokeWidth": 1.2},
     "encoding": {
       "x": {"field": "i", "type": "quantitative", "scale": {"domain": [-0.5, 375.5], "nice": false, "zero": false}, "axis": null},
       "y": {"field": "p", "type": "quantitative", "title": null, "scale": {"domain": [1.52359, 1.58289], "nice": false, "zero": false}, "axis": {"orient": "right", "values": [1.52415, 1.52985, 1.5354, 1.5411, 1.5468, 1.5525, 1.55805, 1.56375, 1.56945, 1.57515, 1.5807], "format": ".5f"}},
       "detail": {"field": "k"}}},
    {"data": {"name": "bars"},
     "mark": {"type": "rule", "color": "#1c3d5a", "strokeWidth": 1},
     "encoding": {
       "x": {"field": "i", "type": "quantitative", "scale": {"domain": [-0.5, 375.5], "nice": false, "zero": false}, "axis": null},
       "y": {"field": "l", "type": "quantitative", "title": null, "scale": {"domain": [1.52359, 1.58289], "nice": false, "zero": false}, "axis": {"orient": "right", "values": [1.52415, 1.52985, 1.5354, 1.5411, 1.5468, 1.5525, 1.55805, 1.56375, 1.56945, 1.57515, 1.5807], "format": ".5f"}},
       "y2": {"field": "h"}}},
    {"data": {"name": "ma"},
     "mark": {"type": "line", "color": "#ff0000", "strokeWidth": 1},
     "encoding": {
       "x": {"field": "i", "type": "quantitative", "scale": {"domain": [-0.5, 375.5], "nice": false, "zero": false}, "axis": null},
       "y": {"field": "p", "type": "quantitative", "title": null, "scale": {"domain": [1.52359, 1.58289], "nice": false, "zero": false}, "axis": {"orient": "right", "values": [1.52415, 1.52985, 1.5354, 1.5411, 1.5468, 1.5525, 1.55805, 1.56375, 1.56945, 1.57515, 1.5807], "format": ".5f"}}}},
    {"data": {"name": "notes"},
     "mark": {"type": "point", "shape": "M-2.476,-0.286L-0.476,-0.286L-0.476,0.286L-2.476,0.286ZM-0.476,0L0,0", "size": 1764, "fill": "white", "stroke": "#000080", "strokeWidth": 1, "opacity": 1, "fillOpacity": 1, "clip": true},
     "encoding": {
       "x": {"field": "i", "type": "quantitative", "scale": {"domain": [-0.5, 375.5], "nice": false, "zero": false}, "axis": null},
       "y": {"field": "p", "type": "quantitative", "title": null, "scale": {"domain": [1.52359, 1.58289], "nice": false, "zero": false}, "axis": {"orient": "right", "values": [1.52415, 1.52985, 1.5354, 1.5411, 1.5468, 1.5525, 1.55805, 1.56375, 1.56945, 1.57515, 1.5807], "format": ".5f"}}}},
    {"data": {"name": "notes"},
     "mark": {"type": "text", "dx": -31, "align": "center", "baseline": "middle", "color": "#000080", "fontSize": 9.5, "clip": true},
     "encoding": {
       "x": {"field": "i", "type": "quantitative", "scale": {"domain": [-0.5, 375.5], "nice": false, "zero": false}, "axis": null},
       "y": {"field": "p", "type": "quantitative", "title": null, "scale": {"domain": [1.52359, 1.58289], "nice": false, "zero": false}, "axis": {"orient": "right", "values": [1.52415, 1.52985, 1.5354, 1.5411, 1.5468, 1.5525, 1.55805, 1.56375, 1.56945, 1.57515, 1.5807], "format": ".5f"}},
       "text": {"field": "t"}}},
    {"data": {"name": "tags"},
     "mark": {"type": "point", "shape": "M-1,-0.25L1,-0.25L1,0.25L-1,0.25Z", "size": 1936, "opacity": 1, "fillOpacity": 1, "strokeWidth": 0, "filled": true},
     "encoding": {
       "x": {"datum": 387.25, "type": "quantitative", "scale": {"domain": [-0.5, 375.5], "nice": false, "zero": false}, "axis": null},
       "y": {"field": "p", "type": "quantitative", "title": null, "scale": {"domain": [1.52359, 1.58289], "nice": false, "zero": false}, "axis": {"orient": "right", "values": [1.52415, 1.52985, 1.5354, 1.5411, 1.5468, 1.5525, 1.55805, 1.56375, 1.56945, 1.57515, 1.5807], "format": ".5f"}},
       "fill": {"condition": {"test": "datum.c === 'cur'", "value": "#000000"}, "value": "#2f4f4f"}}},
    {"data": {"name": "tags"},
     "mark": {"type": "text", "align": "center", "baseline": "middle", "color": "white", "fontSize": 8},
     "encoding": {
       "x": {"datum": 387.25, "type": "quantitative", "scale": {"domain": [-0.5, 375.5], "nice": false, "zero": false}, "axis": null},
       "y": {"field": "p", "type": "quantitative", "title": null, "scale": {"domain": [1.52359, 1.58289], "nice": false, "zero": false}, "axis": {"orient": "right", "values": [1.52415, 1.52985, 1.5354, 1.5411, 1.5468, 1.5525, 1.55805, 1.56375, 1.56945, 1.57515, 1.5807], "format": ".5f"}},
       "text": {"field": "t"}}}
  ]
},
{
  "width": 752, "height": 106,
  "title": {"text": "MACD(12,26,9) 0.003302 0.003322", "offset": -12, "dx": 4},
  "layer": [
    {"data": {"values": [{"v": 0}]},
     "mark": {"type": "rule", "color": "#c0c0c0", "strokeWidth": 1, "strokeDash": [4, 3]},
     "encoding": {"y": {"field": "v", "type": "quantitative", "title": null, "scale": {"domain": [-0.00602, 0.00626], "nice": false, "zero": false},
             "axis": {"orient": "right", "values": [0.006139, 0, -0.0059], "tickSize": 2, "labelPadding": 1,
                      "labelExpr": "datum.value > 0.006 ? '0.006139' : datum.value < -0.005 ? '-0.0059' : '0.00'",
                      "labelBaseline": {"condition": [{"test": "datum.value > 0.006", "value": "top"}, {"test": "datum.value < -0.005", "value": "bottom"}], "value": "middle"}}}}},
    {"data": {"name": "sig"},
     "mark": {"type": "line", "color": "#c0c0c0", "strokeWidth": 1},
     "encoding": {
       "x": {"field": "i", "type": "quantitative", "scale": {"domain": [-0.5, 375.5], "nice": false, "zero": false}, "axis": null},
       "y": {"field": "v", "type": "quantitative", "title": null, "scale": {"domain": [-0.00602, 0.00626], "nice": false, "zero": false},
             "axis": {"orient": "right", "values": [0.006139, 0, -0.0059], "tickSize": 2, "labelPadding": 1,
                      "labelExpr": "datum.value > 0.006 ? '0.006139' : datum.value < -0.005 ? '-0.0059' : '0.00'",
                      "labelBaseline": {"condition": [{"test": "datum.value > 0.006", "value": "top"}, {"test": "datum.value < -0.005", "value": "bottom"}], "value": "middle"}}}}},
    {"data": {"name": "macd"},
     "mark": {"type": "line", "color": "#000080", "strokeWidth": 2, "strokeJoin": "round"},
     "encoding": {
       "x": {"field": "i", "type": "quantitative", "scale": {"domain": [-0.5, 375.5], "nice": false, "zero": false}, "axis": null},
       "y": {"field": "v", "type": "quantitative", "title": null, "scale": {"domain": [-0.00602, 0.00626], "nice": false, "zero": false},
             "axis": {"orient": "right", "values": [0.006139, 0, -0.0059], "tickSize": 2, "labelPadding": 1,
                      "labelExpr": "datum.value > 0.006 ? '0.006139' : datum.value < -0.005 ? '-0.0059' : '0.00'",
                      "labelBaseline": {"condition": [{"test": "datum.value > 0.006", "value": "top"}, {"test": "datum.value < -0.005", "value": "bottom"}], "value": "middle"}}}}}
  ]
},
{
  "width": 752, "height": 123,
  "title": {"text": "RSI(14) 66.8223", "offset": -12, "dx": 5},
  "layer": [
    {"data": {"values": [{"v": 70}, {"v": 30}]},
     "mark": {"type": "rule", "color": "#c0c0c0", "strokeWidth": 1, "strokeDash": [4, 3]},
     "encoding": {"y": {"field": "v", "type": "quantitative", "title": null, "scale": {"domain": [-0.4, 101.5], "nice": false, "zero": false},
             "axis": {"orient": "right", "values": [0, 30, 70, 100], "labelPadding": 2,
                      "labelBaseline": {"condition": [{"test": "datum.value > 99", "value": "top"}, {"test": "datum.value < 1", "value": "bottom"}], "value": "middle"}}}}},
    {"data": {"name": "rsi"},
     "mark": {"type": "line", "color": "#1e90ff", "strokeWidth": 1},
     "encoding": {
       "x": {"field": "i", "type": "quantitative", "title": null, "scale": {"domain": [-0.5, 375.5], "nice": false, "zero": false},
             "axis": {"orient": "bottom", "values": [0, 32, 64, 96, 128, 160, 192, 224, 256, 288, 320, 352],
                      "labelExpr": "['24 Feb 2021','4 Mar 04:00','11 Mar 12:00','18 Mar 20:00','26 Mar 04:00','2 Apr 12:00','9 Apr 20:00','19 Apr 04:00','26 Apr 12:00','3 May 20:00','11 May 04:00','18 May 12:00'][round(datum.value/32)]",
                      "labelAlign": "left", "labelBaseline": "top", "labelPadding": 2, "tickSize": 3}},
       "y": {"field": "v", "type": "quantitative", "title": null, "scale": {"domain": [-0.4, 101.5], "nice": false, "zero": false},
             "axis": {"orient": "right", "values": [0, 30, 70, 100], "labelPadding": 2,
                      "labelBaseline": {"condition": [{"test": "datum.value > 99", "value": "top"}, {"test": "datum.value < 1", "value": "bottom"}], "value": "middle"}}}}}
  ]
}
]
}
